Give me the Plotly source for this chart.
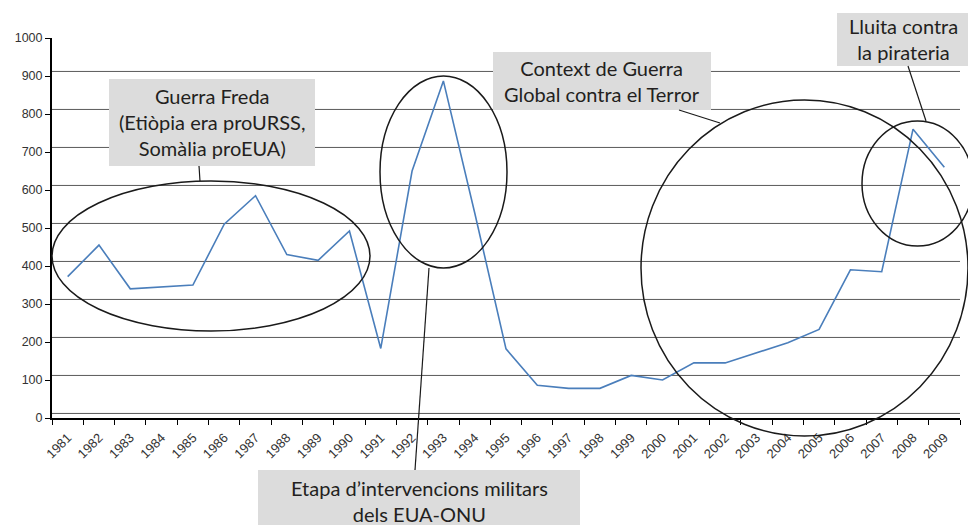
import plotly.graph_objects as go

# Dades del gràfic
anys = [str(a) for a in range(1981, 2010)]
valors = [372, 455, 340, 345, 350, 510, 585, 430, 415, 492, 183,
          650, 887, 540, 182, 86, 78, 78, 112, 100, 145, 145, 172,
          198, 233, 390, 385, 760, 660]
y_ticks = [0, 100, 200, 300, 400, 500, 600, 700, 800, 900, 1000]

# Textos de les caixes
txt_freda = "Guerra Freda<br>(Etiòpia era proURSS,<br>Somàlia proEUA)"
txt_terror = "Context de Guerra<br>Global contra el Terror"
txt_pirateria = "Lluita contra<br>la pirateria"
txt_etapa = "Etapa d’intervencions militars<br>dels EUA-ONU"

# Àrea de dibuix en píxels de pantalla (per col·locar el·lipses i caixes)
# la pàgina té un marge de 8 px, per això la figura és una mica més petita
W, H, OFF = 976, 525, 8
X0, X1, Y0, Y1 = 52, 960, 38, 418


def px(x):
    return (x - X0) / (X1 - X0)


def py(y):
    return (Y1 - y) / (Y1 - Y0)


fig = go.Figure()
fig.add_trace(go.Scatter(x=anys, y=valors, mode="lines",
                         line=dict(color="#4a7ebb", width=1.6),
                         hoverinfo="skip", showlegend=False))

# línies de quadrícula (lleugerament desplaçades com a l'original)
for v in y_ticks[:-1]:
    fig.add_shape(type="line", xref="paper", yref="y", x0=0, x1=1,
                  y0=v + 12, y1=v + 12, layer="below",
                  line=dict(color="#5a5a5a", width=1))

# caixes grises (fons)
for (xa, xb, ya, yb) in [(109, 315, 79, 166), (493, 711, 52, 110),
                         (837, 970, 13, 66), (258, 580, 470, 530)]:
    fig.add_shape(type="rect", xref="paper", yref="paper",
                  x0=px(xa), x1=px(xb), y0=py(yb), y1=py(ya),
                  fillcolor="#dcdcdc", line=dict(width=0))

# el·lipses
for (xa, xb, ya, yb) in [(52, 370, 181, 331), (380, 507, 76, 268),
                         (641, 968, 100, 436), (862, 973, 121, 246)]:
    fig.add_shape(type="circle", xref="paper", yref="paper",
                  x0=px(xa), x1=px(xb), y0=py(yb), y1=py(ya),
                  line=dict(color="#1a1a1a", width=1.5))

# línies de referència
for (xa, ya, xb, yb) in [(199, 166, 200, 181), (429, 268, 415, 470),
                         (679, 110, 720, 123), (908, 66, 926, 121)]:
    fig.add_shape(type="line", xref="paper", yref="paper",
                  x0=px(xa), y0=py(ya), x1=px(xb), y1=py(yb),
                  line=dict(color="#1a1a1a", width=1.2))

# textos de les caixes
for (txt, cx, cy) in [(txt_freda, 212, 122.5), (txt_terror, 602, 81),
                      (txt_pirateria, 903.5, 39.5), (txt_etapa, 419, 501)]:
    fig.add_annotation(text=txt, xref="paper", yref="paper",
                       x=px(cx), y=py(cy), xanchor="center", yanchor="middle",
                       showarrow=False, align="center",
                       font=dict(family="Lato", size=20, color="#231f20"))

fig.update_layout(
    width=W - OFF, height=H - OFF,
    margin=dict(l=X0 - OFF, r=W - X1, t=Y0 - OFF, b=H - Y1),
    plot_bgcolor="white", paper_bgcolor="white",
    font=dict(family="Liberation Sans", color="#333333"),
)
fig.update_xaxes(type="category", range=[-0.5, len(anys) - 0.5],
                 automargin=False, showgrid=False, showline=True,
                 linecolor="black", linewidth=2, ticks="outside",
                 tickson="boundaries", ticklen=5, tickcolor="black",
                 tickangle=-45, tickfont=dict(size=13),
                 ticklabelstandoff=5, zeroline=False)
fig.update_yaxes(range=[0, 1000], tickvals=y_ticks, automargin=False,
                 showgrid=False, showline=True, linecolor="black",
                 linewidth=2, ticks="outside", ticklen=5, tickcolor="black",
                 tickfont=dict(size=12.5), zeroline=False)

fig.write_html("out.html")
